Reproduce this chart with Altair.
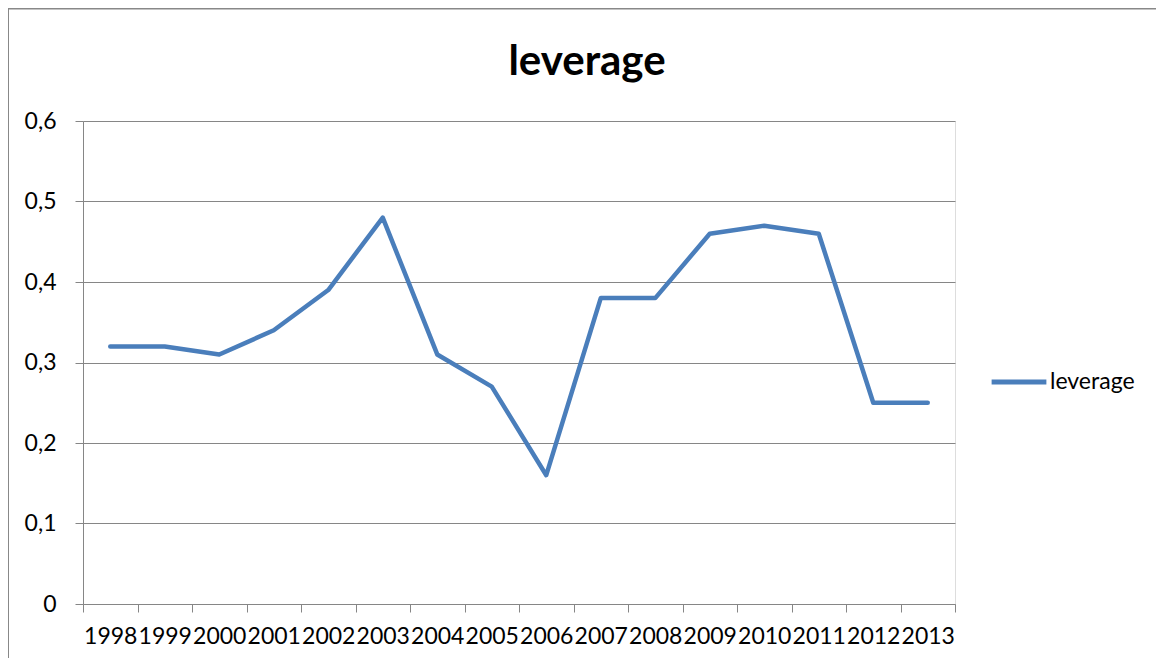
import altair as alt
import pandas as pd

years = ["1998", "1999", "2000", "2001", "2002", "2003", "2004", "2005",
         "2006", "2007", "2008", "2009", "2010", "2011", "2012", "2013"]
leverage = [0.32, 0.32, 0.31, 0.34, 0.39, 0.48, 0.31, 0.27,
            0.16, 0.38, 0.38, 0.46, 0.47, 0.46, 0.25, 0.25]
y_ticks = [0, 0.1, 0.2, 0.3, 0.4, 0.5, 0.6]
series_name = "leverage"

df = pd.DataFrame({
    "pos": [i + 0.5 for i in range(len(years))],
    "year": years,
    "value": leverage,
    "series": [series_name] * len(years),
})

W, H = 872, 483
FONT = "Lato"
GRAY = "#868686"
BLUE = "#4a7ebb"

year_arr = "[" + ",".join("'" + y + "'" for y in years) + "]"
n = len(years)

# axis carrying the boundary ticks (no labels)
tick_axis = alt.Axis(values=list(range(n + 1)), labels=False, tickSize=8,
                     tickColor=GRAY, tickWidth=1, domainColor=GRAY, domainWidth=1,
                     grid=False, title=None, orient="bottom")
# axis carrying the centred year labels (no ticks)
label_axis = alt.Axis(values=[i + 0.5 for i in range(n)], ticks=False, domain=False,
                      grid=False, title=None, orient="bottom",
                      labelExpr=year_arr + "[floor(datum.value)]",
                      labelFont=FONT, labelFontSize=23, labelColor="#000000",
                      labelPadding=21, labelOverlap=False, labelBound=False,
                      labelFlush=False)

xscale = alt.Scale(domain=[0, n], nice=False, zero=False)
yscale = alt.Scale(domain=[0, 0.6], nice=False)

y_axis = alt.Axis(values=y_ticks, tickSize=8, tickColor=GRAY, domainColor=GRAY,
                  gridColor=GRAY, gridWidth=1, title=None,
                  labelExpr="datum.value == 0 ? '0' : replace(format(datum.value, '.1f'), '.', ',')",
                  labelFont=FONT, labelFontSize=23, labelColor="#000000",
                  labelPadding=19)

base = alt.Chart(df)

tick_layer = base.mark_point(opacity=0).encode(
    x=alt.X("pos:Q", scale=xscale, axis=tick_axis),
    y=alt.Y("value:Q", scale=yscale, axis=y_axis),
)

line = base.mark_line(strokeWidth=4.5, strokeCap="round", strokeJoin="round").encode(
    x=alt.X("pos:Q", scale=xscale, axis=label_axis),
    y=alt.Y("value:Q", scale=yscale, axis=y_axis),
    color=alt.Color("series:N", scale=alt.Scale(range=[BLUE]),
                    legend=alt.Legend(title=None, orient="none", legendX=W + 34,
                                      legendY=231, symbolType="stroke",
                                      symbolSize=3000, symbolStrokeWidth=5,
                                      labelFont=FONT, labelFontSize=23,
                                      labelColor="#000000", labelOffset=1)),
)

frame = alt.Chart(alt.Data(values=[{}]))
left_edge = frame.mark_rule(color="#888888", strokeWidth=2).encode(
    x=alt.value(-75), y=alt.value(-112.5), y2=alt.value(H + 54))
top_edge = frame.mark_rule(color="#888888", strokeWidth=2).encode(
    x=alt.value(-75), x2=alt.value(W + 201), y=alt.value(-112.5))

chart = alt.layer(tick_layer, line, left_edge, top_edge).resolve_axis(
    x="independent"
).properties(
    width=W, height=H,
    autosize=alt.AutoSizeParams(type="none"),
    padding={"left": 75, "top": 113, "right": 201, "bottom": 54},
    title=alt.TitleParams("leverage", font=FONT, fontSize=42, fontWeight="bold",
                          color="#000000", anchor="middle", dx=68, offset=-76),
).configure_view(stroke=None).configure(background="white")

chart.save("out.html", embed_options={"renderer": "svg", "actions": False})
